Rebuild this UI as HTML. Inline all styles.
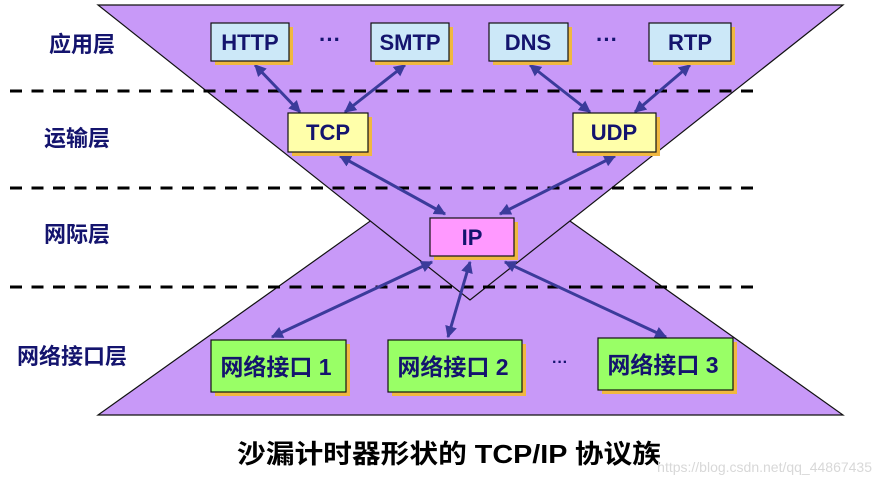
<!DOCTYPE html>
<html><head><meta charset="utf-8"><style>
html,body{margin:0;padding:0;background:#fff;width:882px;height:484px;overflow:hidden}
svg{display:block}
.lbl{font-family:"Liberation Sans","Noto Sans CJK SC",sans-serif;font-weight:bold;fill:#14146e}
</style></head><body>
<svg width="882" height="484" viewBox="0 0 882 484" xmlns="http://www.w3.org/2000/svg">
<defs>
<marker id="ah" viewBox="0 0 10 10" refX="9" refY="5" markerWidth="4" markerHeight="4" orient="auto-start-reverse">
<path d="M0,0 L10,5 L0,10 z" fill="#3b3b9b"/></marker>
</defs>
<polygon points="98,415 843,415 470,150" fill="#c899f8" stroke="#111" stroke-width="1.2"/>
<polygon points="98,5 843,5 470,300" fill="#c899f8" stroke="#111" stroke-width="1.2"/>
<g stroke="#000" stroke-width="3" stroke-dasharray="12,9.5">
<line x1="10" y1="91" x2="760" y2="91"/>
<line x1="10" y1="188" x2="760" y2="188"/>
<line x1="10" y1="287" x2="760" y2="287"/>
</g>
<g class="lbl" font-size="22">
<text x="49" y="52">应用层</text>
<text x="44" y="146">运输层</text>
<text x="44" y="242">网际层</text>
<text x="17" y="364">网络接口层</text>
</g>
<g stroke="#3b3b9b" stroke-width="3" marker-start="url(#ah)" marker-end="url(#ah)">
<line x1="255" y1="65" x2="300" y2="112"/>
<line x1="405" y1="65" x2="345" y2="112"/>
<line x1="530" y1="65" x2="590" y2="112"/>
<line x1="690" y1="65" x2="635" y2="112"/>
<line x1="340" y1="156" x2="445" y2="214"/>
<line x1="615" y1="156" x2="500" y2="214"/>
<line x1="432" y1="262" x2="272" y2="337"/>
<line x1="470" y1="262" x2="448" y2="337"/>
<line x1="505" y1="262" x2="666" y2="337"/>
</g>
<g stroke="#111" stroke-width="1.2">
<rect x="215" y="27" width="78" height="38" fill="#f0b840" stroke="none"/>
<rect x="211" y="23" width="78" height="38" fill="#cce8f8"/>
<rect x="375" y="27" width="78" height="38" fill="#f0b840" stroke="none"/>
<rect x="371" y="23" width="78" height="38" fill="#cce8f8"/>
<rect x="493" y="27" width="79" height="38" fill="#f0b840" stroke="none"/>
<rect x="489" y="23" width="79" height="38" fill="#cce8f8"/>
<rect x="653" y="27" width="82" height="38" fill="#f0b840" stroke="none"/>
<rect x="649" y="23" width="82" height="38" fill="#cce8f8"/>
<rect x="292" y="117" width="80" height="39" fill="#f0b840" stroke="none"/>
<rect x="288" y="113" width="80" height="39" fill="#ffffaa"/>
<rect x="577" y="117" width="83" height="39" fill="#f0b840" stroke="none"/>
<rect x="573" y="113" width="83" height="39" fill="#ffffaa"/>
<rect x="434" y="222" width="84" height="38" fill="#f0b840" stroke="none"/>
<rect x="430" y="218" width="84" height="38" fill="#ff99ff"/>
<rect x="215" y="344" width="135" height="52" fill="#f0b840" stroke="none"/>
<rect x="211" y="340" width="135" height="52" fill="#99ff66"/>
<rect x="392" y="344" width="134" height="52" fill="#f0b840" stroke="none"/>
<rect x="388" y="340" width="134" height="52" fill="#99ff66"/>
<rect x="602" y="342" width="135" height="52" fill="#f0b840" stroke="none"/>
<rect x="598" y="338" width="135" height="52" fill="#99ff66"/>
</g>
<g class="lbl" font-size="22" text-anchor="middle">
<text x="250" y="50">HTTP</text>
<text x="410" y="50">SMTP</text>
<text x="528" y="50">DNS</text>
<text x="690" y="50">RTP</text>
<text x="328" y="140">TCP</text>
<text x="614" y="140">UDP</text>
<text x="472" y="245">IP</text>
<text x="276" y="375" font-size="23">网络接口 1</text>
<text x="453" y="375" font-size="23">网络接口 2</text>
<text x="663" y="373" font-size="23">网络接口 3</text>
<text x="330" y="47">···</text>
<text x="607" y="47">···</text>
<text x="560" y="367" font-size="16">···</text>
</g>
<text x="237" y="463" textLength="424" lengthAdjust="spacingAndGlyphs" font-family="Liberation Sans,Noto Sans CJK SC,sans-serif" font-weight="bold" font-size="26" fill="#000">沙漏计时器形状的 TCP/IP 协议族</text>
<text x="872" y="472" text-anchor="end" font-family="Liberation Sans,sans-serif" font-size="14" fill="#d8d8d8">https://blog.csdn.net/qq_44867435</text>
</svg>
</body></html>
